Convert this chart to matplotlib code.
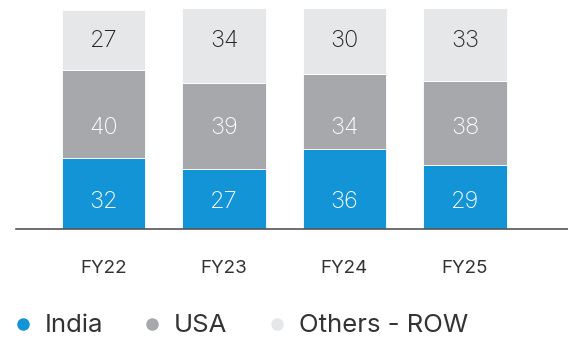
import numpy as np
import matplotlib.pyplot as plt
from matplotlib.lines import Line2D

plt.rcParams['font.family'] = ['Inter', 'DejaVu Sans']

years = ['FY22', 'FY23', 'FY24', 'FY25']
india = [32, 27, 36, 29]
usa = [40, 39, 34, 38]
others = [27, 34, 30, 33]

# name, values, bar colour, label colour, label row height
series = [
    ('India', india, '#1394d6', 'white', 12.2),
    ('USA', usa, '#a7a8ac', 'white', 45.7),
    ('Others - ROW', others, '#e6e7e8', '#222222', 85.0),
]

fig = plt.figure(figsize=(5.68, 3.38), dpi=100)
ax = fig.add_axes([16 / 568, (338 - 229) / 338, 552 / 568, 229 / 338])

x = np.arange(len(years))
bottom = np.zeros(len(years))
for name, vals, color, txt, row in series:
    vals = np.array(vals)
    ax.bar(x, vals, width=0.69, bottom=bottom, color=color,
           edgecolor='white', linewidth=0.6)
    for xi, v in zip(x, vals):
        ax.text(xi, row, str(v), ha='center', va='center',
                fontsize=17, color=txt, fontweight='light')
    bottom += vals

ax.set_xlim(-0.726, 3.855)
ax.set_ylim(0, 103.5)
ax.set_xticks(x)
ax.set_xticklabels(years, fontsize=13.5, color='#333333')
ax.tick_params(axis='x', length=0, pad=22)
ax.set_yticks([])
for side in ['top', 'right', 'left']:
    ax.spines[side].set_visible(False)
ax.spines['bottom'].set_color('#555555')
ax.spines['bottom'].set_linewidth(1.2)

handles = [Line2D([], [], marker='o', linestyle='', markersize=8,
                  markerfacecolor=c, markeredgecolor=c, label=n)
           for n, _, c, _, _ in series]
fig.legend(handles=handles, loc='center left',
           bbox_to_anchor=(15 / 568, 12 / 338), ncol=3, frameon=False,
           fontsize=18.5, handlelength=0.6, handletextpad=0.55,
           columnspacing=1.62, borderpad=0, borderaxespad=0,
           labelcolor='#333333')

fig.savefig('out.png', dpi=100)
